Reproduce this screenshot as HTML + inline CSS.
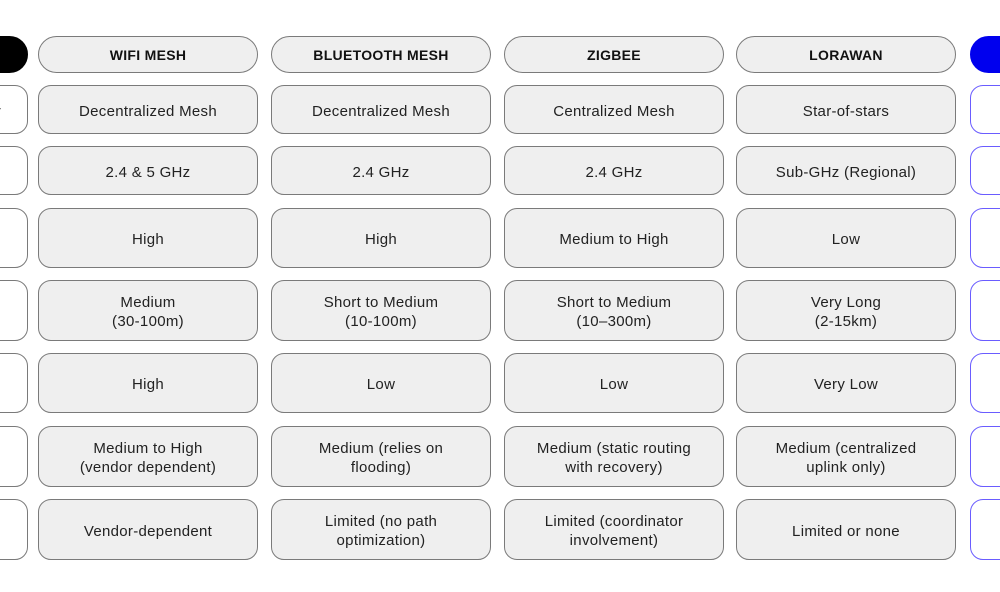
<!DOCTYPE html>
<html><head><style>
body{margin:0;width:1000px;height:592px;background:#fff;position:relative;overflow:hidden;font-family:"Liberation Sans",sans-serif}
.b{position:absolute;box-sizing:border-box;border:1.3px solid #7a7a7a;background:#efefef;border-radius:13px;display:flex;align-items:center;justify-content:center;text-align:center;font-size:15px;color:#222;line-height:19px;letter-spacing:0.3px;padding-top:3px}
.h{border-radius:19px;font-weight:bold;font-size:14px;color:#111;padding-top:1px}
.l{background:#fff;}
.lh{background:#000;border-color:#000}
.r{background:#fff;border-color:#6a5cff}
.rh{background:#0000ee;border-color:#0000ee}
</style></head><body>
<div id="c"></div>
<script>
var rows=[[36,37],[85,49],[146,49],[208,60],[280,61],[353,60],[426,61],[499,61]];
var cols=[38,271,504,736];
var t=[["WIFI MESH","BLUETOOTH MESH","ZIGBEE","LORAWAN"],
["Decentralized Mesh","Decentralized Mesh","Centralized Mesh","Star-of-stars"],
["2.4 &amp; 5 GHz","2.4 GHz","2.4 GHz","Sub-GHz (Regional)"],
["High","High","Medium to High","Low"],
["Medium<br>(30-100m)","Short to Medium<br>(10-100m)","Short to Medium<br>(10–300m)","Very Long<br>(2-15km)"],
["High","Low","Low","Very Low"],
["Medium to High<br>(vendor dependent)","Medium (relies on<br>flooding)","Medium (static routing<br>with recovery)","Medium (centralized<br>uplink only)"],
["Vendor-dependent","Limited (no path<br>optimization)","Limited (coordinator<br>involvement)","Limited or none"]];
var h="";
rows.forEach(function(r,i){
 var hc=i==0?" h":"";
 h+='<div class="b'+hc+(i==0?' lh':' l')+'" style="left:-200px;top:'+r[0]+'px;width:228px;height:'+r[1]+'px;justify-content:flex-end;padding-right:26px">'+(i==1?'y':'')+'</div>';
 cols.forEach(function(x,j){h+='<div class="b'+hc+'" style="left:'+x+'px;top:'+r[0]+'px;width:220px;height:'+r[1]+'px">'+t[i][j]+'</div>';});
 h+='<div class="b'+hc+(i==0?' rh':' r')+'" style="left:970px;top:'+r[0]+'px;width:220px;height:'+r[1]+'px"></div>';
});
document.getElementById("c").innerHTML=h;
</script>
</body></html>
